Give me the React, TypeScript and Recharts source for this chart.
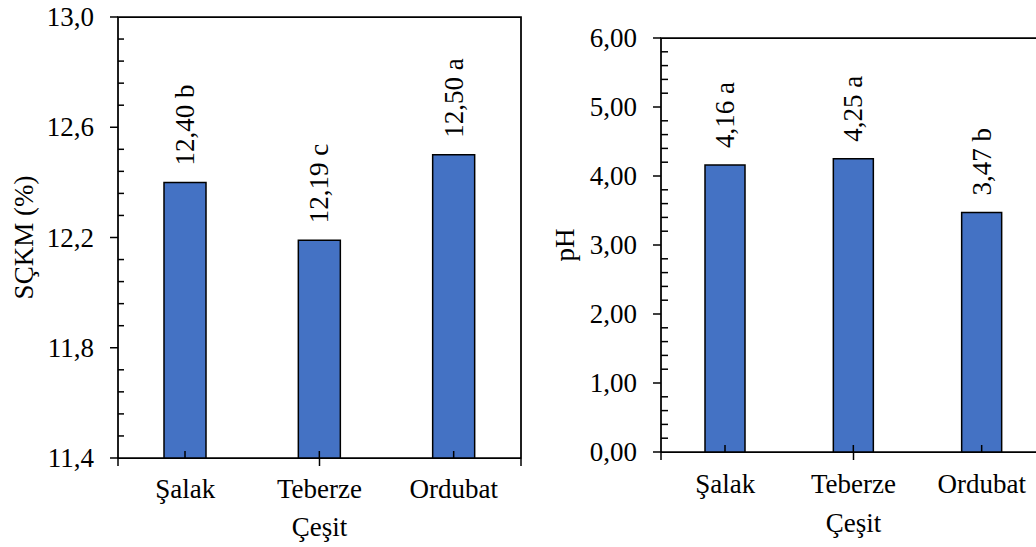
import React from 'react';
import { BarChart, Bar, XAxis, YAxis, LabelList, ReferenceArea, Label } from 'recharts';

const categories = ['Şalak', 'Teberze', 'Ordubat'];
const sckmValues = [12.4, 12.19, 12.5];
const sckmLetters = ['b', 'c', 'a'];
const phValues = [4.16, 4.25, 3.47];
const phLetters = ['a', 'a', 'b'];

const sckmTicks = [11.4, 11.8, 12.2, 12.6, 13.0];
const phTicks = [0, 1, 2, 3, 4, 5, 6];
const edgeTicks = [0, 1, 2, 3];

const FONT = "'Liberation Serif', 'Times New Roman', serif";
const FS = 27;
const BLUE = '#4472C4';

// every tick position (majors plus the 4 minors between them)
const allTicks = (min: number, max: number, step: number) => {
  const out: number[] = [];
  const n = Math.round((max - min) / step);
  for (let i = 0; i <= n; i++) out.push(+(min + i * step).toFixed(4));
  return out;
};

const comma = (v: number, d: number) => v.toFixed(d).replace('.', ',');

const noTick = () => <g />;

const MAJOR = 8;
const MARGIN = 16;

interface PanelProps {
  left: number;
  width: number;
  top: number;
  bottom: number;
  yWidth: number;
  barSize: number;
  values: number[];
  letters: string[];
  ticks: number[];
  minorStep: number;
  decimals: number;
  minorSize: number;
  yTitle: string;
  yTitleX: number;
  xTitleDy: number;
  tickDy: number;
}

const Panel: React.FC<PanelProps> = (p) => {
  const data = categories.map((name, i) => ({
    name,
    value: p.values[i],
    label: `${comma(p.values[i], 2)} ${p.letters[i]}`,
  }));
  const min = p.ticks[0];
  const max = p.ticks[p.ticks.length - 1];

  const T = (props: any) => (
    <text fontFamily={FONT} fontSize={FS} fill="#000" style={{ fontFamily: FONT, fontSize: FS }} {...props} />
  );

  // value label above the bar, plus the small inner category tick at the bar's foot
  const renderBarLabel = (props: any) => {
    const { x, y, width, height, value } = props;
    const cx = Number(x) + Number(width) / 2;
    const px = cx + 9;
    const py = Number(y) - 17;
    const foot = Number(y) + Number(height);
    return (
      <g>
        <line x1={cx} x2={cx} y1={foot} y2={foot - 7} stroke="#000" strokeWidth={1.5} />
        <T x={px} y={py} transform={`rotate(-90 ${px} ${py})`} textAnchor="start">
          {value}
        </T>
      </g>
    );
  };

  const renderCatTick = (props: any) => {
    const { x, y, payload } = props;
    return (
      <T x={x} y={Number(y) + p.tickDy} textAnchor="middle">
        {payload.value}
      </T>
    );
  };

  const renderYTick = (props: any) => {
    const { x, y, payload } = props;
    const v = Number(payload.value);
    const axisX = Number(x) + MAJOR + MARGIN;
    const yy = Number(y);
    const major = p.ticks.some((t) => Math.abs(t - v) < 1e-6);
    if (!major) {
      return <line x1={axisX} x2={axisX + p.minorSize} y1={yy} y2={yy} stroke="#000" strokeWidth={1.5} />;
    }
    return (
      <g>
        <line x1={axisX - MAJOR} x2={axisX} y1={yy} y2={yy} stroke="#000" strokeWidth={1.5} />
        <T x={x} y={yy + 9} textAnchor="end">
          {comma(v, p.decimals)}
        </T>
      </g>
    );
  };

  return (
    <div style={{ position: 'absolute', left: p.left, top: 0 }}>
      <BarChart
        width={p.width}
        height={547}
        data={data}
        margin={{ top: p.top, right: 20, bottom: p.bottom, left: 0 }}
      >
        <XAxis
          xAxisId="edge"
          type="number"
          domain={[0, 3]}
          ticks={edgeTicks}
          interval={0}
          tick={noTick}
          tickSize={7}
          height={1}
          axisLine={false}
          tickLine={{ stroke: '#000', strokeWidth: 1.5 }}
        />
        <XAxis
          xAxisId="cat"
          dataKey="name"
          type="category"
          interval={0}
          height={1}
          tickSize={0}
          tickMargin={0}
          axisLine={false}
          tickLine={false}
          tick={renderCatTick}
        >
          <Label
            content={(lp: any) => {
              const vb = lp.viewBox || {};
              const cx = Number(vb.x) + Number(vb.width) / 2;
              const cy = Number(vb.y) + p.xTitleDy;
              return (
                <T x={cx} y={cy} textAnchor="middle">
                  Çeşit
                </T>
              );
            }}
          />
        </XAxis>
        <YAxis
          yAxisId="main"
          type="number"
          domain={[min, max]}
          ticks={allTicks(min, max, p.minorStep)}
          interval={0}
          width={p.yWidth}
          tickSize={MAJOR}
          tickMargin={MARGIN}
          tick={renderYTick}
          tickLine={false}
          axisLine={false}
        >
          <Label
            content={(lp: any) => {
              const vb = lp.viewBox || {};
              const cx = Number(vb.x) + p.yTitleX;
              const cy = Number(vb.y) + Number(vb.height) / 2;
              return (
                <T x={cx} y={cy} transform={`rotate(-90 ${cx} ${cy})`} textAnchor="middle">
                  {p.yTitle}
                </T>
              );
            }}
          />
        </YAxis>
        <ReferenceArea
          xAxisId="cat"
          yAxisId="main"
          y1={min}
          y2={max}
          fill="none"
          stroke="#000"
          strokeWidth={1.75}
          ifOverflow="visible"
        />
        <Bar
          xAxisId="cat"
          yAxisId="main"
          dataKey="value"
          fill={BLUE}
          stroke="#000"
          strokeWidth={1.5}
          barSize={p.barSize}
          isAnimationActive={false}
        >
          <LabelList dataKey="label" content={renderBarLabel} />
        </Bar>
      </BarChart>
    </div>
  );
};

export default function App() {
  return (
    <div
      style={{
        position: 'absolute',
        left: 0,
        top: 0,
        width: 1036,
        height: 547,
        overflow: 'hidden',
        background: '#fff',
        fontFamily: FONT,
      }}
    >
      <Panel
        left={0}
        width={541}
        top={17}
        bottom={87}
        yWidth={118}
        barSize={42}
        values={sckmValues}
        letters={sckmLetters}
        ticks={sckmTicks}
        minorStep={0.08}
        decimals={1}
        minorSize={6}
        yTitle="SÇKM (%)"
        yTitleX={33}
        xTitleDy={78}
        tickDy={40}
      />
      <Panel
        left={540}
        width={526}
        top={38}
        bottom={93}
        yWidth={121}
        barSize={40}
        values={phValues}
        letters={phLetters}
        ticks={phTicks}
        minorStep={0.2}
        decimals={2}
        minorSize={7}
        yTitle="pH"
        yTitleX={34}
        xTitleDy={80}
        tickDy={41}
      />
    </div>
  );
}
